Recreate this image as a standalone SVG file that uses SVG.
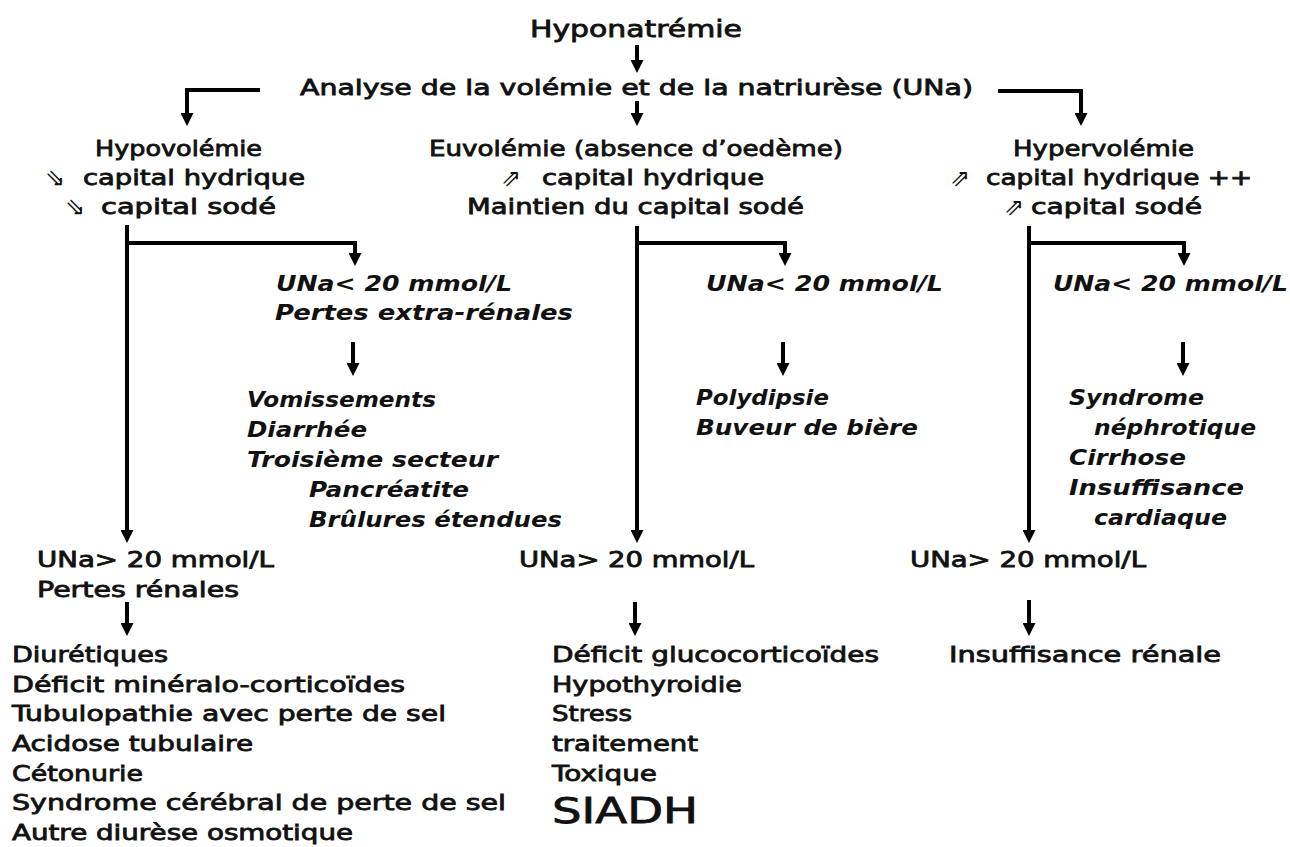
<svg xmlns="http://www.w3.org/2000/svg" width="1290" height="847" viewBox="0 0 1290 847">
<style>
.t{font-family:"DejaVu Sans","Liberation Sans",sans-serif;font-size:21px;fill:#111;stroke:#111;stroke-width:0.8px}
.i{font-family:"DejaVu Sans","Liberation Sans",sans-serif;font-size:21px;font-style:italic;font-weight:bold;fill:#111}
.ar{font-family:"DejaVu Sans",sans-serif;font-size:24px;fill:#111}
.c{fill:none;stroke:#000;stroke-width:4;stroke-linejoin:miter}
</style>
<defs>
<marker id="ah" viewBox="0 0 12 12" refX="0" refY="6" markerWidth="13" markerHeight="13" markerUnits="userSpaceOnUse" orient="auto">
<path d="M0,0 L12,6 L0,12 z" fill="#000"/>
</marker>
</defs>
<rect width="1290" height="847" fill="#fff"/>

<g id="connectors" class="c" marker-end="url(#ah)">
<path d="M637,45 V60"/>
<path d="M637,101 V113"/>
<path d="M260,90 H187 V113"/>
<path d="M998,91 H1081 V113"/>
<path d="M127,225 V530"/>
<path d="M127,243 H355 V253"/>
<path d="M637,226 V530"/>
<path d="M637,243 H785 V253"/>
<path d="M1029,226 V530"/>
<path d="M1029,243 H1184 V253"/>
<path d="M353,342 V363"/>
<path d="M783,342 V363"/>
<path d="M1183,342 V363"/>
<path d="M127,602 V623"/>
<path d="M635,602 V623"/>
<path d="M1029,600 V623"/>
</g>

<g id="hyponatremie">
<text class="t" x="530" y="37" style="font-size:23px" textLength="212" lengthAdjust="spacingAndGlyphs">Hyponatrémie</text>
</g>
<g id="analyse">
<text class="t" x="300" y="95" textLength="673" lengthAdjust="spacingAndGlyphs">Analyse de la volémie et de la natriurèse (UNa)</text>
</g>

<g id="hypovolemie">
<text class="t" x="95" y="156" textLength="167" lengthAdjust="spacingAndGlyphs">Hypovolémie</text>
<text class="ar" x="45" y="186">⇘</text>
<text class="t" x="83" y="185" textLength="222" lengthAdjust="spacingAndGlyphs">capital hydrique</text>
<text class="ar" x="65" y="215">⇘</text>
<text class="t" x="101" y="214" textLength="175" lengthAdjust="spacingAndGlyphs">capital sodé</text>
</g>

<g id="euvolemie">
<text class="t" x="429" y="156" textLength="414" lengthAdjust="spacingAndGlyphs">Euvolémie (absence d’oedème)</text>
<text class="ar" x="501" y="186">⇗</text>
<text class="t" x="542" y="185" textLength="222" lengthAdjust="spacingAndGlyphs">capital hydrique</text>
<text class="t" x="467" y="214" textLength="337" lengthAdjust="spacingAndGlyphs">Maintien du capital sodé</text>
</g>

<g id="hypervolemie">
<text class="t" x="1013" y="156" textLength="181" lengthAdjust="spacingAndGlyphs">Hypervolémie</text>
<text class="ar" x="950" y="186">⇗</text>
<text class="t" x="986" y="185" textLength="266" lengthAdjust="spacingAndGlyphs">capital hydrique ++</text>
<text class="ar" x="1004" y="215">⇗</text>
<text class="t" x="1031" y="214" textLength="171" lengthAdjust="spacingAndGlyphs">capital sodé</text>
</g>

<g id="hypo-una-low">
<text class="i" x="276" y="291" textLength="236" lengthAdjust="spacingAndGlyphs">UNa&lt; 20 mmol/L</text>
<text class="i" x="275" y="320" textLength="298" lengthAdjust="spacingAndGlyphs">Pertes extra-rénales</text>
</g>
<g id="hypo-extra-causes">
<text class="i" x="247" y="407" textLength="189" lengthAdjust="spacingAndGlyphs">Vomissements</text>
<text class="i" x="247" y="437" textLength="120" lengthAdjust="spacingAndGlyphs">Diarrhée</text>
<text class="i" x="247" y="467" textLength="251" lengthAdjust="spacingAndGlyphs">Troisième secteur</text>
<text class="i" x="309" y="497" textLength="160" lengthAdjust="spacingAndGlyphs">Pancréatite</text>
<text class="i" x="309" y="527" textLength="253" lengthAdjust="spacingAndGlyphs">Brûlures étendues</text>
</g>

<g id="euvo-una-low">
<text class="i" x="706" y="291" textLength="237" lengthAdjust="spacingAndGlyphs">UNa&lt; 20 mmol/L</text>
</g>
<g id="euvo-low-causes">
<text class="i" x="696" y="405" textLength="133" lengthAdjust="spacingAndGlyphs">Polydipsie</text>
<text class="i" x="696" y="435" textLength="222" lengthAdjust="spacingAndGlyphs">Buveur de bière</text>
</g>

<g id="hyper-una-low">
<text class="i" x="1053" y="291" textLength="235" lengthAdjust="spacingAndGlyphs">UNa&lt; 20 mmol/L</text>
</g>
<g id="hyper-low-causes">
<text class="i" x="1069" y="405" textLength="135" lengthAdjust="spacingAndGlyphs">Syndrome</text>
<text class="i" x="1094" y="435" textLength="162" lengthAdjust="spacingAndGlyphs">néphrotique</text>
<text class="i" x="1069" y="465" textLength="117" lengthAdjust="spacingAndGlyphs">Cirrhose</text>
<text class="i" x="1069" y="495" textLength="175" lengthAdjust="spacingAndGlyphs">Insuffisance</text>
<text class="i" x="1094" y="525" textLength="133" lengthAdjust="spacingAndGlyphs">cardiaque</text>
</g>

<g id="hypo-una-high">
<text class="t" x="37" y="567" textLength="237" lengthAdjust="spacingAndGlyphs">UNa&gt; 20 mmol/L</text>
<text class="t" x="37" y="597" textLength="202" lengthAdjust="spacingAndGlyphs">Pertes rénales</text>
</g>
<g id="hypo-renal-causes">
<text class="t" x="12" y="662" textLength="156" lengthAdjust="spacingAndGlyphs">Diurétiques</text>
<text class="t" x="12" y="692" textLength="393" lengthAdjust="spacingAndGlyphs">Déficit minéralo-corticoïdes</text>
<text class="t" x="12" y="721" textLength="434" lengthAdjust="spacingAndGlyphs">Tubulopathie avec perte de sel</text>
<text class="t" x="12" y="751" textLength="241" lengthAdjust="spacingAndGlyphs">Acidose tubulaire</text>
<text class="t" x="12" y="781" textLength="131" lengthAdjust="spacingAndGlyphs">Cétonurie</text>
<text class="t" x="12" y="810" textLength="494" lengthAdjust="spacingAndGlyphs">Syndrome cérébral de perte de sel</text>
<text class="t" x="12" y="840" textLength="341" lengthAdjust="spacingAndGlyphs">Autre diurèse osmotique</text>
</g>

<g id="euvo-una-high">
<text class="t" x="519" y="567" textLength="235" lengthAdjust="spacingAndGlyphs">UNa&gt; 20 mmol/L</text>
</g>
<g id="euvo-high-causes">
<text class="t" x="552" y="662" textLength="327" lengthAdjust="spacingAndGlyphs">Déficit glucocorticoïdes</text>
<text class="t" x="552" y="692" textLength="190" lengthAdjust="spacingAndGlyphs">Hypothyroidie</text>
<text class="t" x="552" y="721" textLength="80" lengthAdjust="spacingAndGlyphs">Stress</text>
<text class="t" x="552" y="751" textLength="146" lengthAdjust="spacingAndGlyphs">traitement</text>
<text class="t" x="552" y="781" textLength="105" lengthAdjust="spacingAndGlyphs">Toxique</text>
<text class="t" x="552" y="823" style="font-size:35px" textLength="146" lengthAdjust="spacingAndGlyphs">SIADH</text>
</g>

<g id="hyper-una-high">
<text class="t" x="910" y="567" textLength="236" lengthAdjust="spacingAndGlyphs">UNa&gt; 20 mmol/L</text>
</g>
<g id="hyper-high-causes">
<text class="t" x="949" y="662" textLength="272" lengthAdjust="spacingAndGlyphs">Insuffisance rénale</text>
</g>
</svg>
